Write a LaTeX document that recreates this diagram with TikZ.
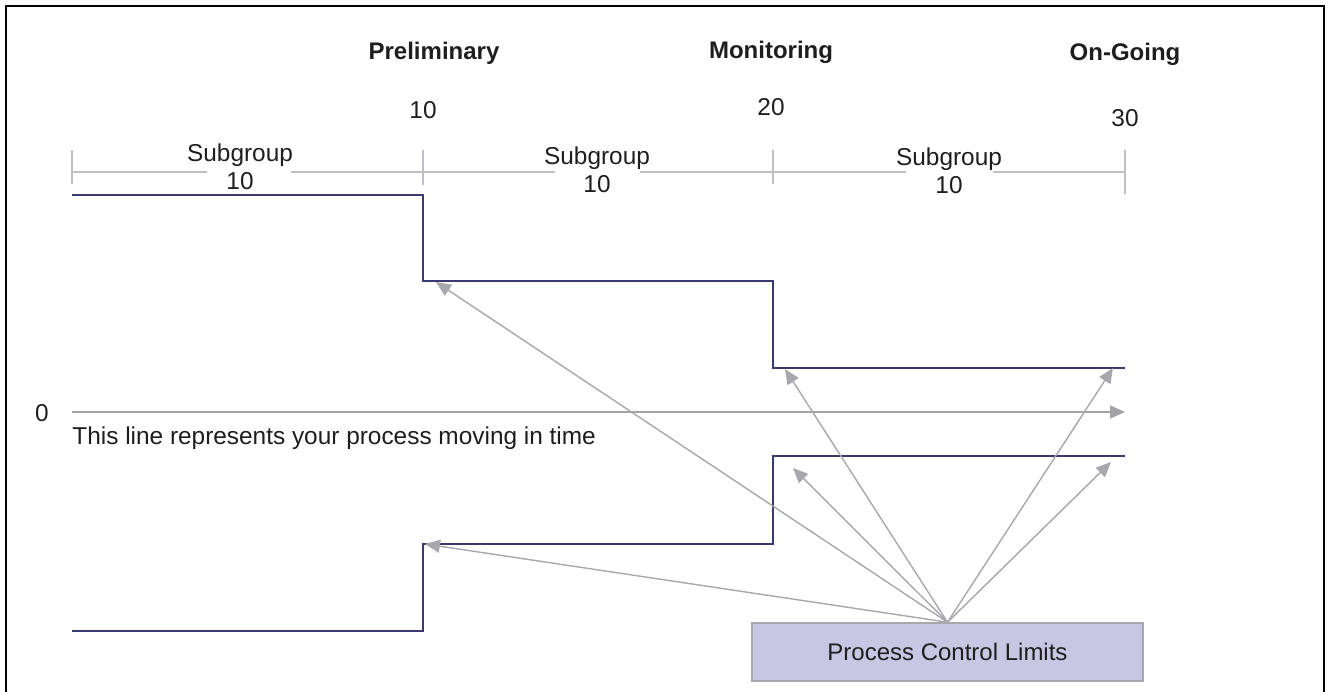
\documentclass[tikz,border=0pt]{standalone}
\usepackage{fontspec}
\setmainfont{Liberation Sans}
\usetikzlibrary{arrows.meta}
\definecolor{limitline}{RGB}{58,58,110}
\definecolor{pointer}{RGB}{168,168,172}
\definecolor{ruler}{RGB}{192,192,196}
\definecolor{boxfill}{RGB}{200,198,226}
\definecolor{ink}{RGB}{30,30,30}
\begin{document}
\begin{tikzpicture}[x=0.5pt,y=-0.5pt,
  lbl/.style={inner sep=0pt,text=ink,font=\fontsize{12.2pt}{14pt}\selectfont},
  head/.style={lbl,font=\fontsize{12pt}{14pt}\selectfont\bfseries},
  limit/.style={draw=limitline,line width=0.9pt},
  rulerline/.style={draw=ruler,line width=0.8pt},
  pointerline/.style={draw=pointer,line width=0.7pt,-{Triangle[length=7.5pt,width=6.5pt]}},
  infobox/.style={draw=pointer,fill=boxfill,line width=0.8pt,minimum width=195.5pt,minimum height=29pt,inner sep=0pt,text=ink,font=\fontsize{12pt}{14pt}\selectfont}]
\useasboundingbox (0,0) rectangle (1328,691);
% outer frame (open at the bottom)
\draw[line width=1.1pt] (6,700) -- (6,6) -- (1324,6) -- (1324,700);

% phase headings and subgroup counts
\node[head] (hPre) at (434,53) {Preliminary};
\node[head] (hMon) at (771,52) {Monitoring};
\node[head] (hOn) at (1125,54) {On-Going};
\node[lbl] (n10) at (423,110) {10};
\node[lbl] (n20) at (771,107) {20};
\node[lbl] (n30) at (1125,118) {30};

% ruler with subgroup spans
\coordinate (r0) at (72,172);
\coordinate (r1) at (423,172);
\coordinate (r2) at (773,172);
\coordinate (r3) at (1125,172);
\foreach \t/\top/\bot in {r0/150/184, r1/150/185, r2/150/184, r3/150/194}
  \draw[rulerline] (\t |- 0,\top) -- (\t |- 0,\bot);
\node[lbl,align=center] (s1) at (240,167) {Subgroup\\10};
\node[lbl,align=center] (s2) at (597,170) {Subgroup\\10};
\node[lbl,align=center] (s3) at (949,171) {Subgroup\\10};
\draw[rulerline] (r0) -- (207,172) (291,172) -- (r1) -- (555,172) (640,172) -- (r2) -- (906,172) (993,172) -- (r3);

% upper and lower control limits
\coordinate (u1) at (423,281);
\coordinate (u2) at (773,368);
\coordinate (u3) at (1125,368);
\coordinate (l1) at (423,544);
\coordinate (l2) at (773,456);
\coordinate (l3) at (1125,456);
\draw[limit] (72,195) -- (423,195) -- (u1) -- (773,281) -- (u2) -- (u3);
\draw[limit] (72,631) -- (423,631) -- (l1) -- (773,544) -- (l2) -- (l3);

% process time line
\node[lbl] (zero) at (42,413) {0};
\coordinate (t0) at (72,412);
\coordinate (t1) at (1125,412);
\draw[line width=0.9pt,-{Triangle[length=7.5pt,width=6.5pt]},color=ruler!85!black] (t0) -- (t1);
\node[lbl,anchor=west] (tl) at (72,438) {This line represents your process moving in time};

% pointer box and arrows to the limits
\node[infobox] (pcl) at (947.5,652) {Process Control Limits};
\coordinate (a1) at (436,282);
\coordinate (a2) at (425,544);
\coordinate (a3) at (785,369);
\coordinate (a4) at (793,468);
\coordinate (a5) at (1113,368);
\coordinate (a6) at (1111,462);
\foreach \p in {a1,a2,a3,a4,a5,a6}
  \draw[pointerline] (pcl.north) -- (\p);
\end{tikzpicture}
\end{document}
